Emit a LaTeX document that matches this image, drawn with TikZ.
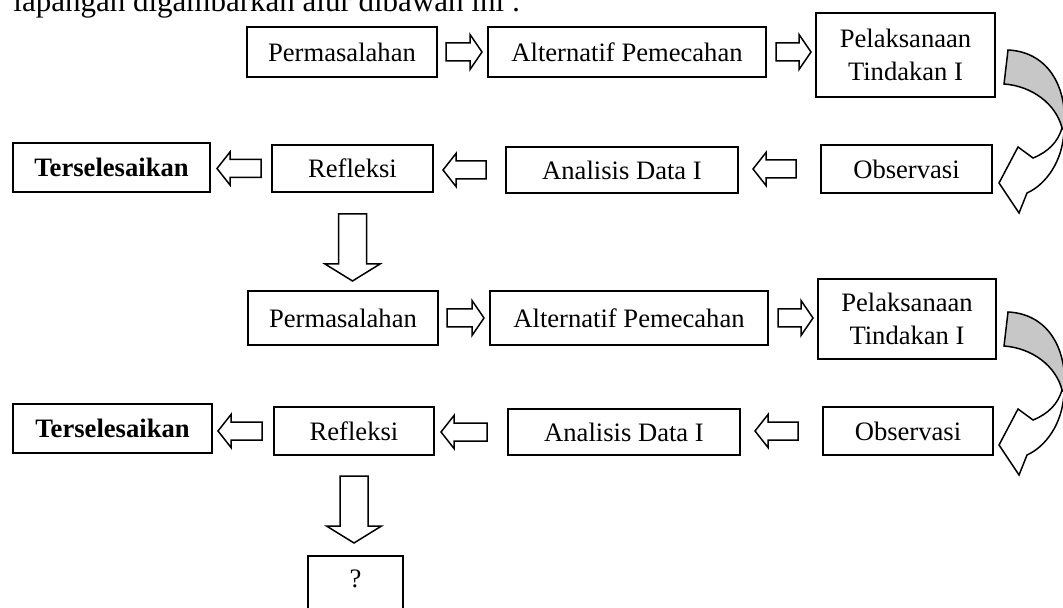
\documentclass[tikz,border=0pt]{standalone}
\usepackage{fontspec}
\setmainfont{Liberation Serif}
\usetikzlibrary{calc}
\tikzset{
  box/.style={draw, line width=1pt, inner sep=0pt, font=\fontsize{13.3}{16.5}\selectfont, align=center},
  blk/.style={draw, line width=0.75pt, fill=white, line join=miter},
  band/.style={draw, line width=0.75pt, line join=miter},
}
% right block arrow: from, to, tail gap, tip gap
\newcommand\rarr[4]{%
  \path[blk] let \p1=(#1.east), \p2=(#2.west) in
    (\x1+#3,\y1+4.5pt) -- (\x2-#4-6pt,\y1+4.5pt) -- (\x2-#4-6pt,\y1+8.75pt) --
    (\x2-#4,\y1) -- (\x2-#4-6pt,\y1-8.75pt) -- (\x2-#4-6pt,\y1-4.5pt) --
    (\x1+#3,\y1-4.5pt) -- cycle;}
% left block arrow
\newcommand\larr[4]{%
  \path[blk] let \p1=(#1.west), \p2=(#2.east) in
    (\x1-#3,\y1+4.5pt) -- (\x2+#4+6.5pt,\y1+4.5pt) -- (\x2+#4+6.5pt,\y1+8.25pt) --
    (\x2+#4,\y1) -- (\x2+#4+6.5pt,\y1-8.25pt) -- (\x2+#4+6.5pt,\y1-4.5pt) --
    (\x1-#3,\y1-4.5pt) -- cycle;}
% down block arrow
\newcommand\darr[4]{%
  \path[blk] let \p1=(#1.south), \p2=(#2.north) in
    (\x1-7pt,\y1-#3) -- (\x1-7pt,\y2+#4+8.5pt) -- (\x1-13.75pt,\y2+#4+8.5pt) --
    (\x1,\y2+#4) -- (\x1+13.75pt,\y2+#4+8.5pt) -- (\x1+7pt,\y2+#4+8.5pt) --
    (\x1+7pt,\y1-#3) -- cycle;}
% curved arrow
\newcommand\curvarr{%
  \path[band, fill=white] (1064,130) .. controls (1063,162) and (1045,185) .. (1027,193)
     -- (1019,213) -- (999,183) -- (1018,147) -- (1033,158)
     .. controls (1048,152) and (1058,142) .. (1062,128) -- cycle;
  \path[band, fill=black!22] (1008,50) .. controls (1050,52) and (1068,90) .. (1064,130)
     -- (1062,128) .. controls (1056,104) and (1032,86) .. (1004,84) -- cycle;}
\begin{document}
\begin{tikzpicture}[x=0.5pt,y=-0.5pt]
\useasboundingbox (0,0) rectangle (1063,608);
\node[anchor=base west, inner sep=0pt, font=\fontsize{15.5}{18}\selectfont] (hdr) at (13,12) {lapangan digambarkan alur dibawah ini :};
% row 1
\node[box, minimum width=95pt, minimum height=25pt] (p1) at (342,52) {Permasalahan};
\node[box, minimum width=139pt, minimum height=25pt] (a1) at (627,52) {Alternatif Pemecahan};
\node[box, minimum width=89.5pt, minimum height=42pt] (l1) at (905.5,55) {Pelaksanaan\\Tindakan I};
% row 2
\node[box, minimum width=98.5pt, minimum height=24.5pt, font=\fontsize{13.3}{16.5}\selectfont\bfseries] (t1) at (111.5,167.5) {Terselesaikan};
\node[box, minimum width=80.5pt, minimum height=23.5pt] (r1) at (352.5,168.5) {Refleksi};
\node[box, minimum width=116pt, minimum height=23pt] (d1) at (622,170) {Analisis Data I};
\node[box, minimum width=85.5pt, minimum height=24pt] (o1) at (906.5,169) {Observasi};
% row 3
\node[box, minimum width=95pt, minimum height=27pt] (p2) at (343,318) {Permasalahan};
\node[box, minimum width=139pt, minimum height=27pt] (a2) at (629,318) {Alternatif Pemecahan};
\node[box, minimum width=89pt, minimum height=40pt] (l2) at (907,319) {Pelaksanaan\\Tindakan I};
% row 4
\node[box, minimum width=99.5pt, minimum height=24.5pt, font=\fontsize{13.3}{16.5}\selectfont\bfseries] (t2) at (112.5,428.5) {Terselesaikan};
\node[box, minimum width=80pt, minimum height=24pt] (r2) at (354,431) {Refleksi};
\node[box, minimum width=116pt, minimum height=23pt] (d2) at (624,432) {Analisis Data I};
\node[box, minimum width=85pt, minimum height=24pt] (o2) at (908,431) {Observasi};
% question box
\node[box, anchor=north, minimum width=47.5pt, text height=15.5pt, text depth=22pt] (q) at (355.5,555) {?};
% arrows
\rarr{p1}{a1}{4pt}{2.5pt}
\rarr{a1}{l1}{4.5pt}{2pt}
\larr{o1}{d1}{12pt}{7pt}
\larr{d1}{r1}{9.5pt}{4.5pt}
\larr{r1}{t1}{5pt}{3pt}
\darr{r1}{p2}{10.5pt}{4.5pt}
\rarr{p2}{a2}{4pt}{2.5pt}
\rarr{a2}{l2}{4.5pt}{2pt}
\larr{o2}{d2}{12pt}{7pt}
\larr{d2}{r2}{10pt}{3pt}
\larr{r2}{t2}{5.5pt}{2.5pt}
\darr{r2}{q}{10pt}{6pt}
\curvarr
\begin{scope}[shift={(0,262)}]
\curvarr
\end{scope}
\end{tikzpicture}
\end{document}
